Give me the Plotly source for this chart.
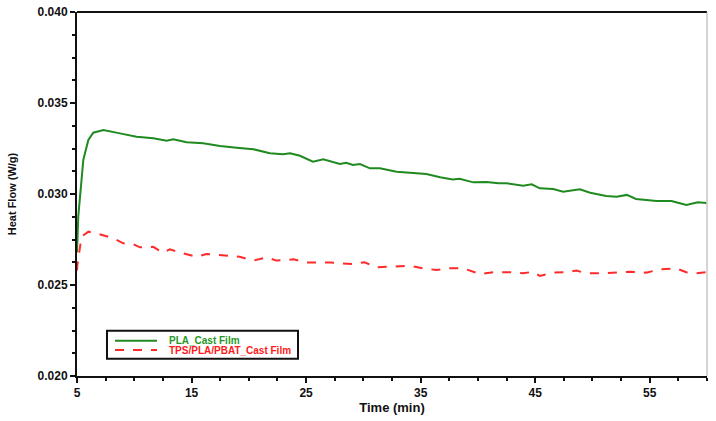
import plotly.graph_objects as go

# PLA_Cast Film
pla_time = [5.0, 5.11, 5.55, 5.99, 6.42, 7.3, 8.75, 10.2, 11.66, 12.83, 13.4, 14.57, 16.02, 17.48,
            18.94, 20.39, 21.84, 23.0, 23.6, 24.46, 25.6, 26.5, 27.95, 28.5, 29.1, 29.7, 30.57,
            31.44, 32.9, 34.35, 35.5, 36.7, 37.8, 38.4, 39.6, 40.75, 41.8, 42.5, 43.95, 44.7,
            45.4, 46.57, 47.44, 48.9, 49.8, 51.2, 52.1, 53.0, 53.8, 55.6, 56.9, 57.3, 58.2,
            59.2, 59.95]
pla_flow = [0.0268, 0.02875, 0.03187, 0.03297, 0.03337, 0.03352, 0.03333, 0.03315, 0.03306,
            0.03293, 0.03301, 0.03284, 0.03279, 0.03264, 0.03254, 0.03246, 0.03224, 0.03218,
            0.03224, 0.03210, 0.03178, 0.03191, 0.03165, 0.03172, 0.03159, 0.03165, 0.03141,
            0.03141, 0.03122, 0.03117, 0.03110, 0.03092, 0.03080, 0.03084, 0.03064, 0.03066,
            0.03059, 0.03059, 0.03046, 0.03053, 0.03031, 0.03027, 0.03013, 0.03026, 0.03007,
            0.02989, 0.02985, 0.02995, 0.02973, 0.02962, 0.02962, 0.02955, 0.02940, 0.02955,
            0.02950]

# TPS/PLA/PBAT_Cast Film
blend_time = [5.0, 5.03, 5.4, 6.0, 6.7, 8.17, 9.04, 9.9, 10.5, 11.66, 12.5, 13.1, 14.28, 15.45,
              16.3, 18.06, 19.2, 20.4, 21.56, 22.4, 23.45, 23.9, 25.05, 27.1, 29.1, 30.1, 31.15,
              32.9, 34.06, 35.2, 36.4, 37.55, 38.7, 40.2, 41.35, 42.8, 43.95, 44.8, 45.4, 46.57,
              47.7, 48.6, 49.5, 50.9, 52.1, 53.26, 54.7, 55.9, 57.3, 58.2, 59.1, 59.95]
blend_flow = [0.0258, 0.0261, 0.02766, 0.02793, 0.02784, 0.02757, 0.02729, 0.02725, 0.02707,
              0.02710, 0.02677, 0.02696, 0.02674, 0.02655, 0.02670, 0.02659, 0.02655, 0.02634,
              0.02652, 0.02634, 0.02637, 0.02641, 0.02623, 0.02623, 0.02615, 0.02625, 0.02597,
              0.02600, 0.02606, 0.02592, 0.02582, 0.02592, 0.02592, 0.02560, 0.02570, 0.02570,
              0.02564, 0.02573, 0.02550, 0.02568, 0.02570, 0.02579, 0.02564, 0.02564, 0.02570,
              0.02573, 0.02568, 0.02586, 0.02592, 0.02570, 0.02564, 0.02570]

series_names = ['PLA_Cast Film', 'TPS/PLA/PBAT_Cast Film']
series_colors = ['#1f8a1f', '#ff2a2a']

x_ticks = [5, 15, 25, 35, 45, 55]
y_ticks = [0.020, 0.025, 0.030, 0.035, 0.040]

FONT = 'Liberation Sans, Arial, sans-serif'
bold_font = dict(family=FONT, size=12, color='#111111', weight='bold')

fig = go.Figure()
fig.add_trace(go.Scatter(
    x=pla_time, y=pla_flow, mode='lines', name=series_names[0],
    line=dict(color=series_colors[0], width=2)
))
fig.add_trace(go.Scatter(
    x=blend_time, y=blend_flow, mode='lines', name=series_names[1],
    line=dict(color=series_colors[1], width=2, dash='dash')
))

# hand-drawn legend box (plotly's own legend rows are too tall for this look)
shapes = [
    dict(type='line', xref='paper', yref='paper', x0=0, x1=1, y0=1, y1=1,
         line=dict(color='#111111', width=2)),
    dict(type='line', xref='paper', yref='paper', x0=1, x1=1, y0=0, y1=1,
         line=dict(color='#aaaaaa', width=1)),
    dict(type='rect', xref='paper', yref='paper', x0=0.0476, x1=0.3508, y0=0.0475, y1=0.1245,
         line=dict(color='#111111', width=2), fillcolor='white'),
    dict(type='line', xref='paper', yref='paper', x0=0.0603, x1=0.127, y0=0.097, y1=0.097,
         line=dict(color=series_colors[0], width=2)),
    dict(type='line', xref='paper', yref='paper', x0=0.0603, x1=0.127, y0=0.0714, y1=0.0714,
         line=dict(color=series_colors[1], width=2, dash='dash')),
]
annotations = [
    dict(xref='paper', yref='paper', x=0.143, y=0.097, xanchor='left', yanchor='middle',
         text=series_names[0], showarrow=False,
         font=dict(family=FONT, size=10, weight='bold', color='#1f9a1f')),
    dict(xref='paper', yref='paper', x=0.143, y=0.0714, xanchor='left', yanchor='middle',
         text=series_names[1], showarrow=False,
         font=dict(family=FONT, size=10, weight='bold', color='#ff1a1a')),
]

fig.update_layout(
    width=716, height=421,
    paper_bgcolor='white', plot_bgcolor='white',
    margin=dict(l=77, r=9, t=12, b=45),
    font=bold_font,
    showlegend=False,
    xaxis=dict(
        range=[5, 60], tickvals=x_ticks, ticks='outside', ticklen=5, tickwidth=2,
        tickcolor='#111111', showline=True, linecolor='#111111', linewidth=2,
        showgrid=False, zeroline=False, automargin=False,
        minor=dict(tick0=5, dtick=2.5, ticks='outside', ticklen=3, tickwidth=2, tickcolor='#111111'),
        title=dict(text='Time (min)', font=dict(size=13, weight='bold'), standoff=3),
        tickfont=bold_font,
    ),
    yaxis=dict(
        range=[0.020, 0.040], tickvals=y_ticks, tickformat='.3f', ticks='outside', ticklen=5,
        tickwidth=2, tickcolor='#111111', showline=True, linecolor='#111111', linewidth=2,
        showgrid=False, zeroline=False, automargin=False,
        minor=dict(tick0=0.020, dtick=0.00125, ticks='outside', ticklen=3, tickwidth=2, tickcolor='#111111'),
        title=dict(text='Heat Flow (W/g)', font=dict(size=11, weight='bold'), standoff=19),
        tickfont=bold_font,
    ),
    shapes=shapes,
    annotations=annotations,
)

# drop the default 8px body margin so the figure sits at the page corner
fig.write_html("out.html", config={'displayModeBar': False},
               post_script="document.body.style.margin='0';")
